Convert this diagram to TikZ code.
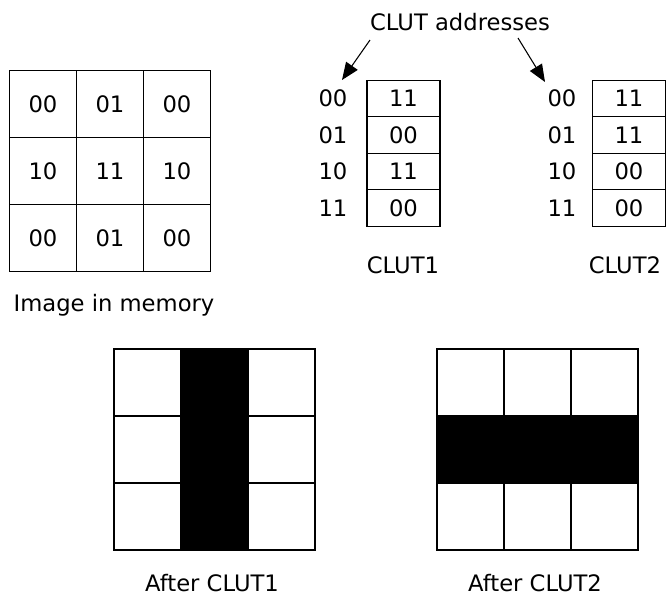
\documentclass[tikz,border=0pt]{standalone}
\usepackage{fontspec}
\setmainfont{DejaVu Sans}
\usetikzlibrary{arrows.meta}
\begin{document}
\begin{tikzpicture}[x=0.75pt,y=-0.75pt,
  every node/.style={font=\fontsize{17}{20}\selectfont},
  cell/.style={draw, line width=0.9pt, minimum width=50.25pt, minimum height=50.25pt, inner sep=0pt, outer sep=0pt},
  dark/.style={cell, fill=black},
  lut/.style={draw, line width=0.9pt, minimum width=54.75pt, minimum height=27.4pt, inner sep=0pt, outer sep=0pt},
  lbl/.style={inner sep=0pt},
  arr/.style={-{Triangle[length=13pt,width=10.5pt]}, line width=0.8pt}]
\useasboundingbox (0,0) rectangle (669,597);

% image in memory
\node[cell] (m11) at (43,104) {00};
\node[cell] (m12) at (110,104) {01};
\node[cell] (m13) at (177,104) {00};
\node[cell] (m21) at (43,171) {10};
\node[cell] (m22) at (110,171) {11};
\node[cell] (m23) at (177,171) {10};
\node[cell] (m31) at (43,238) {00};
\node[cell] (m32) at (110,238) {01};
\node[cell] (m33) at (177,238) {00};
\node[lbl] (mcap) at (114,305) {Image in memory};

% CLUT1
\node[lut] (c1a) at (403.5,98.5) {11};
\node[lut] (c1b) at (403.5,135) {00};
\node[lut] (c1c) at (403.5,171.5) {11};
\node[lut] (c1d) at (403.5,208) {00};
\node[lbl] (a1a) at (333,98.5) {00};
\node[lbl] (a1b) at (333,135) {01};
\node[lbl] (a1c) at (333,171.5) {10};
\node[lbl] (a1d) at (333,208) {11};
\node[lbl] (c1cap) at (403,265) {CLUT1};

% CLUT2
\node[lut] (c2a) at (629,98.5) {11};
\node[lut] (c2b) at (629,135) {11};
\node[lut] (c2c) at (629,171.5) {00};
\node[lut] (c2d) at (629,208) {00};
\node[lbl] (a2a) at (562,98.5) {00};
\node[lbl] (a2b) at (562,135) {01};
\node[lbl] (a2c) at (562,171.5) {10};
\node[lbl] (a2d) at (562,208) {11};
\node[lbl] (c2cap) at (625,265) {CLUT2};

% CLUT addresses
\node[lbl] (addr) at (460,22) {CLUT addresses};
\coordinate (s1) at (370,40);
\coordinate (e1) at (342,80);
\coordinate (s2) at (518,38);
\coordinate (e2) at (545,82);
\draw[arr] (s1) -- (e1);
\draw[arr] (s2) -- (e2);

% After CLUT1
\node[cell] (p11) at (147.5,382.5) {};
\node[dark] (p12) at (214.5,382.5) {};
\node[cell] (p13) at (281.5,382.5) {};
\node[cell] (p21) at (147.5,449.5) {};
\node[dark] (p22) at (214.5,449.5) {};
\node[cell] (p23) at (281.5,449.5) {};
\node[cell] (p31) at (147.5,516.5) {};
\node[dark] (p32) at (214.5,516.5) {};
\node[cell] (p33) at (281.5,516.5) {};
\node[lbl] (pcap) at (212,583) {After CLUT1};

% After CLUT2
\node[cell] (q11) at (470.5,382.5) {};
\node[cell] (q12) at (537.5,382.5) {};
\node[cell] (q13) at (604.5,382.5) {};
\node[dark] (q21) at (470.5,449.5) {};
\node[dark] (q22) at (537.5,449.5) {};
\node[dark] (q23) at (604.5,449.5) {};
\node[cell] (q31) at (470.5,516.5) {};
\node[cell] (q32) at (537.5,516.5) {};
\node[cell] (q33) at (604.5,516.5) {};
\node[lbl] (qcap) at (535,583) {After CLUT2};
\end{tikzpicture}
\end{document}
